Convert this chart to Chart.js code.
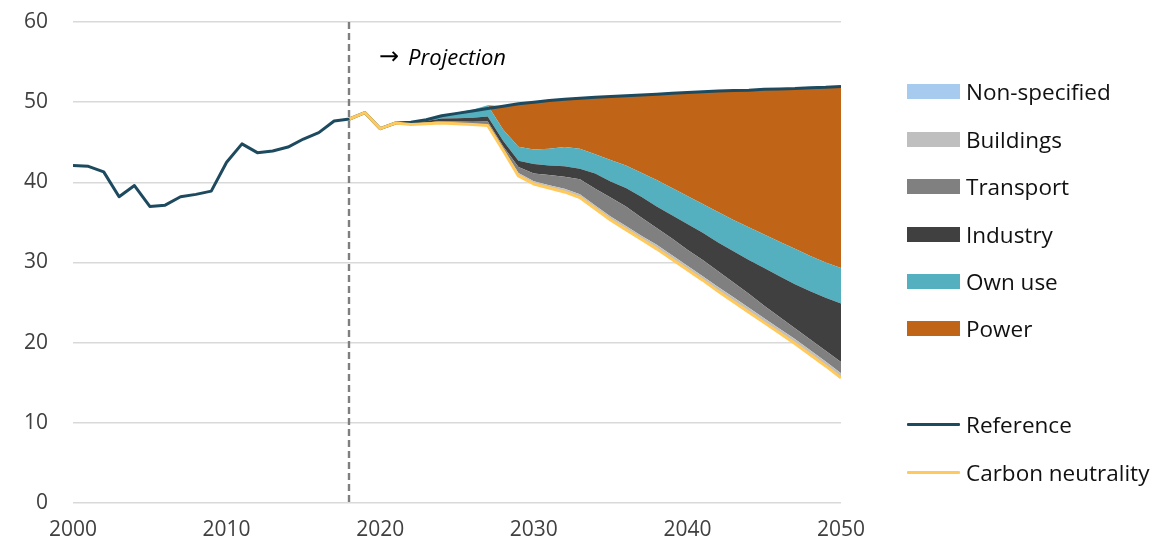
<!DOCTYPE html>
<html>
<head>
<meta charset="utf-8">
<script src="https://cdn.jsdelivr.net/npm/chart.js@4.4.1/dist/chart.umd.min.js"></script>
<style>
  html, body { margin: 0; padding: 0; background: #ffffff; }
  #wrap { position: relative; width: 1152px; height: 548px; font-family: "Open Sans", "Noto Sans", sans-serif; }
  canvas { position: absolute; left: 0; top: 0; }
  #proj { position: absolute; left: 379px; top: 41px; height: 30px; display: flex; align-items: center; font-size: 22px; color: #000; white-space: nowrap; }
  #proj .arr { font-family: "DejaVu Sans", sans-serif; font-size: 24px; }
  #proj i { font-style: italic; margin-left: 9px; }
  #legend { position: absolute; left: 907px; top: 0; }
  .item { position: absolute; left: 0; height: 30px; display: flex; align-items: center; white-space: nowrap; font-size: 22.5px; color: #111; }
  .sw { width: 53px; height: 15px; margin-right: 6px; flex: none; }
  .ln { width: 53px; height: 3px; margin-right: 6px; flex: none; border-radius: 1px; }
</style>
</head>
<body>
<div id="wrap">
  <canvas id="c" width="1152" height="548"></canvas>
  <div id="proj"><span class="arr">&#8594;</span><i>Projection</i></div>
  <div id="legend"></div>
</div>
<script>
// ---------- data ----------
const histYears = [2000,2001,2002,2003,2004,2005,2006,2007,2008,2009,2010,2011,2012,2013,2014,2015,2016,2017];
const histReference = [42.1,42.0,41.3,38.2,39.6,37.0,37.15,38.2,38.5,38.9,42.5,44.8,43.7,43.9,44.4,45.4,46.2,47.65];

const projYears = [2018,2019,2020,2021,2022,2023,2024,2025,2026,2027,2028,2029,2030,2031,2032,2033,2034,2035,2036,2037,2038,2039,2040,2041,2042,2043,2044,2045,2046,2047,2048,2049,2050];
const referenceProj = [47.9,48.7,46.7,47.4,47.5,47.8,48.3,48.6,48.9,49.2,49.5,49.8,50.0,50.2,50.35,50.5,50.6,50.7,50.8,50.9,51.0,51.1,51.2,51.3,51.4,51.45,51.5,51.6,51.65,51.7,51.8,51.85,51.95];
const carbonNeutrality = [47.9,48.7,46.7,47.4,47.2,47.3,47.4,47.3,47.2,47.1,44.0,40.8,39.8,39.3,38.8,38.1,36.7,35.3,34.1,32.9,31.7,30.4,29.1,27.8,26.4,25.1,23.8,22.5,21.2,19.9,18.5,17.1,15.6];

const nonSpecified = [0,0,0,0,0.02,0.02,0.02,0.02,0.02,0.02,0.05,0.05,0.05,0.05,0.05,0.05,0.05,0.05,0.05,0.05,0.05,0.05,0.05,0.05,0.05,0.05,0.05,0.05,0.05,0.05,0.05,0.05,0.05];
const buildings = [0,0,0,0,0.05,0.05,0.08,0.08,0.1,0.13,0.1,0.3,0.3,0.3,0.35,0.35,0.35,0.4,0.4,0.4,0.45,0.45,0.45,0.45,0.5,0.5,0.5,0.5,0.5,0.5,0.5,0.5,0.55];
const transport = [0,0,0,0,0.08,0.1,0.15,0.2,0.23,0.35,0.35,0.75,0.95,1.25,1.5,1.9,2.1,2.35,2.45,2.25,2.1,2.1,2.0,2.0,1.95,1.85,1.75,1.55,1.45,1.35,1.35,1.35,1.4];
const industry = [0,0,0,0,0.1,0.18,0.3,0.4,0.5,0.6,0.7,0.8,1.2,1.2,1.3,1.3,1.9,2.0,2.3,2.6,2.7,2.9,3.2,3.4,3.6,3.9,4.2,4.7,5.1,5.5,6.0,6.6,7.3];
const ownUse = [0,0,0,0,0.05,0.15,0.35,0.7,1.0,1.4,1.4,1.75,1.8,2.1,2.4,2.5,2.4,2.7,2.8,3.0,3.3,3.4,3.5,3.6,3.8,3.9,4.1,4.2,4.3,4.4,4.4,4.4,4.4];
const power = [0,0,0,0,0,0,0,0,0,0,2.9,5.35,5.9,6.0,5.95,6.3,7.1,7.9,8.7,9.7,10.7,11.8,12.9,14.0,15.1,16.15,17.1,18.1,19.05,20.0,21.0,21.85,22.65];

const yTicks = [0,10,20,30,40,50,60];
const xTicks = [2000,2010,2020,2030,2040,2050];
const projectionStart = 2018;

// ---------- styles ----------
const COLORS = {
  reference: '#1d4a5e',
  carbon: '#ffc95c',
  nonSpecified: '#a6cbee',
  buildings: '#bfbfbf',
  transport: '#808080',
  industry: '#404040',
  ownUse: '#54b0bf',
  power: '#c06418'
};

const pts = (xs, ys) => xs.map((x, i) => ({ x: x, y: ys[i] }));
const refAll = pts(histYears.concat(projYears), histReference.concat(referenceProj));

const areaDs = (label, arr, color, order) => ({
  label, data: pts(projYears, arr), stack: 'sectors',
  backgroundColor: color, borderColor: color, borderWidth: 0, pointRadius: 0, fill: '-1', order, tension: 0
});

const datasets = [
  { label: 'Carbon neutrality', data: pts(projYears, carbonNeutrality), stack: 'cn', borderColor: COLORS.carbon, borderWidth: 3, pointRadius: 0, fill: false, order: 0, tension: 0 },
  { label: 'Reference', data: refAll, stack: 'ref', borderColor: COLORS.reference, borderWidth: 3, pointRadius: 0, fill: false, order: 1, tension: 0 },
  { label: 'base', data: pts(projYears, carbonNeutrality), stack: 'sectors', borderWidth: 0, pointRadius: 0, fill: false, backgroundColor: 'rgba(0,0,0,0)', borderColor: 'rgba(0,0,0,0)', order: 2 },
  areaDs('Non-specified', nonSpecified, COLORS.nonSpecified, 3),
  areaDs('Buildings', buildings, COLORS.buildings, 4),
  areaDs('Transport', transport, COLORS.transport, 5),
  areaDs('Industry', industry, COLORS.industry, 6),
  areaDs('Own use', ownUse, COLORS.ownUse, 7),
  areaDs('Power', power, COLORS.power, 8)
];

const dashedLine = {
  id: 'dashedLine',
  beforeDatasetsDraw(chart) {
    const { ctx, chartArea, scales } = chart;
    const x = Math.round(scales.x.getPixelForValue(projectionStart));
    ctx.save();
    ctx.strokeStyle = '#7f7f7f';
    ctx.lineWidth = 2.4;
    ctx.setLineDash([7, 4]);
    ctx.beginPath();
    ctx.moveTo(x, chartArea.top);
    ctx.lineTo(x, chartArea.bottom);
    ctx.stroke();
    ctx.restore();
  }
};

new Chart(document.getElementById('c'), {
  type: 'line',
  data: { datasets },
  options: {
    responsive: false,
    animation: false,
    layout: { padding: { top: 22, right: 311, left: 0, bottom: 0 } },
    plugins: { legend: { display: false }, tooltip: { enabled: false } },
    elements: { line: { borderJoinStyle: 'round' } },
    scales: {
      x: {
        type: 'linear', min: 2000, max: 2050,
        afterBuildTicks: (s) => { s.ticks = xTicks.map(v => ({ value: v })); },
        ticks: { callback: (v) => String(v), color: '#404040', font: { family: 'Open Sans', size: 21 }, padding: 14, maxRotation: 0 },
        grid: { display: false, drawTicks: false },
        border: { display: false },
        afterFit: (s) => { s.height = 45; }
      },
      y: {
        stacked: true, min: 0, max: 60,
        afterBuildTicks: (s) => { s.ticks = yTicks.map(v => ({ value: v })); },
        ticks: { color: '#404040', font: { family: 'Open Sans', size: 21 }, padding: 25 },
        grid: { color: '#d9d9d9', lineWidth: 1.5, drawTicks: false },
        border: { display: false },
        afterFit: (s) => { s.width = 73; s.paddingTop = 0; s.paddingBottom = 0; }
      }
    }
  },
  plugins: [dashedLine]
});

// ---------- legend ----------
const legendItems = [
  { label: 'Non-specified', color: COLORS.nonSpecified, type: 'box', y: 91 },
  { label: 'Buildings', color: COLORS.buildings, type: 'box', y: 139 },
  { label: 'Transport', color: COLORS.transport, type: 'box', y: 186 },
  { label: 'Industry', color: COLORS.industry, type: 'box', y: 234 },
  { label: 'Own use', color: COLORS.ownUse, type: 'box', y: 281 },
  { label: 'Power', color: COLORS.power, type: 'box', y: 328 },
  { label: 'Reference', color: COLORS.reference, type: 'line', y: 424 },
  { label: 'Carbon neutrality', color: COLORS.carbon, type: 'line', y: 472 }
];
const lg = document.getElementById('legend');
legendItems.forEach(it => {
  const d = document.createElement('div');
  d.className = 'item';
  d.style.top = (it.y - 15) + 'px';
  const s = document.createElement('span');
  s.className = it.type === 'box' ? 'sw' : 'ln';
  s.style.background = it.color;
  const t = document.createElement('span');
  t.textContent = it.label;
  d.appendChild(s); d.appendChild(t);
  lg.appendChild(d);
});
</script>
</body>
</html>
